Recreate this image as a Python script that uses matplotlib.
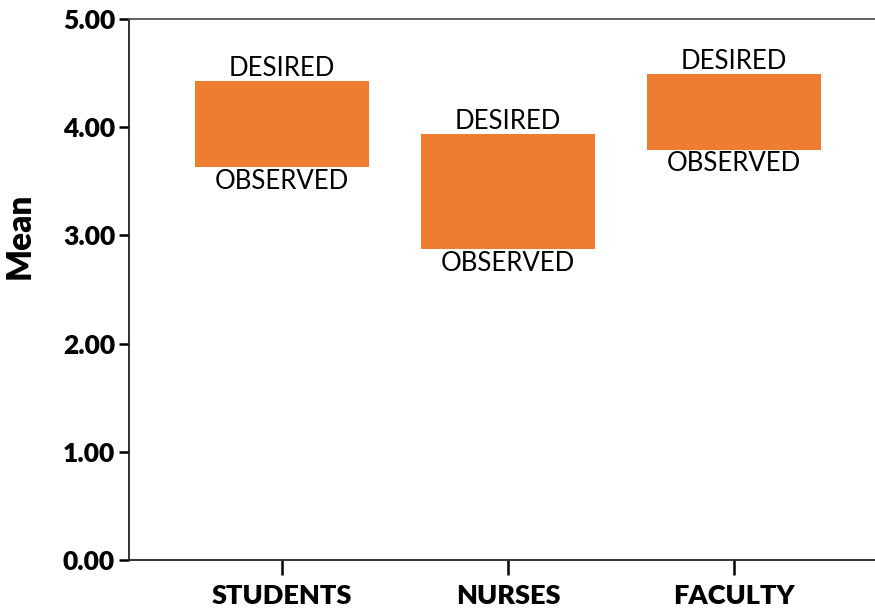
import matplotlib
matplotlib.use("Agg")
import matplotlib.pyplot as plt

categories = ["STUDENTS", "NURSES", "FACULTY"]
observed = [3.63, 2.87, 3.79]
desired = [4.43, 3.94, 4.49]
yticks = [0, 1, 2, 3, 4, 5]
ytick_labels = ["0.00", "1.00", "2.00", "3.00", "4.00", "5.00"]

plt.rcParams['font.family'] = ['Lato', 'DejaVu Sans']

fig = plt.figure(figsize=(8.75, 6.11), dpi=100)
ax = fig.add_axes([129/875, 51/611, (905-129)/875, (560-19)/611])

x = list(range(len(categories)))
heights = [d - o for d, o in zip(desired, observed)]
ax.bar(x, heights, bottom=observed, width=0.77, color="#ED7D31", edgecolor="none")

for xi, o, d in zip(x, observed, desired):
    ax.annotate("DESIRED", (xi, d), xytext=(0, 0), textcoords="offset points",
                ha="center", va="bottom", fontsize=18.5)
    ax.annotate("OBSERVED", (xi, o), xytext=(0, -1), textcoords="offset points",
                ha="center", va="top", fontsize=18.5)

ax.set_xlim(-0.677, 2.757)
ax.set_ylim(0, 5)
ax.set_yticks(yticks)
ax.set_yticklabels(ytick_labels, fontsize=19, fontweight="heavy")
ax.set_xticks(x)
ax.set_xticklabels(categories, fontsize=19.5, fontweight="heavy")
ax.tick_params(axis="y", length=7, width=1.8, direction="out", pad=3)
ax.tick_params(axis="x", length=11, width=1.8, direction="out", pad=6)
ax.set_ylabel("Mean", fontsize=24, fontweight="heavy")
ax.yaxis.set_label_coords(-0.12, 0.6)

for s in ["left", "bottom"]:
    ax.spines[s].set_linewidth(1.3)
    ax.spines[s].set_color("#222222")
ax.spines["top"].set_linewidth(1.3)
ax.spines["top"].set_color("#555555")
ax.spines["right"].set_visible(False)

fig.savefig("out.png", dpi=100)
